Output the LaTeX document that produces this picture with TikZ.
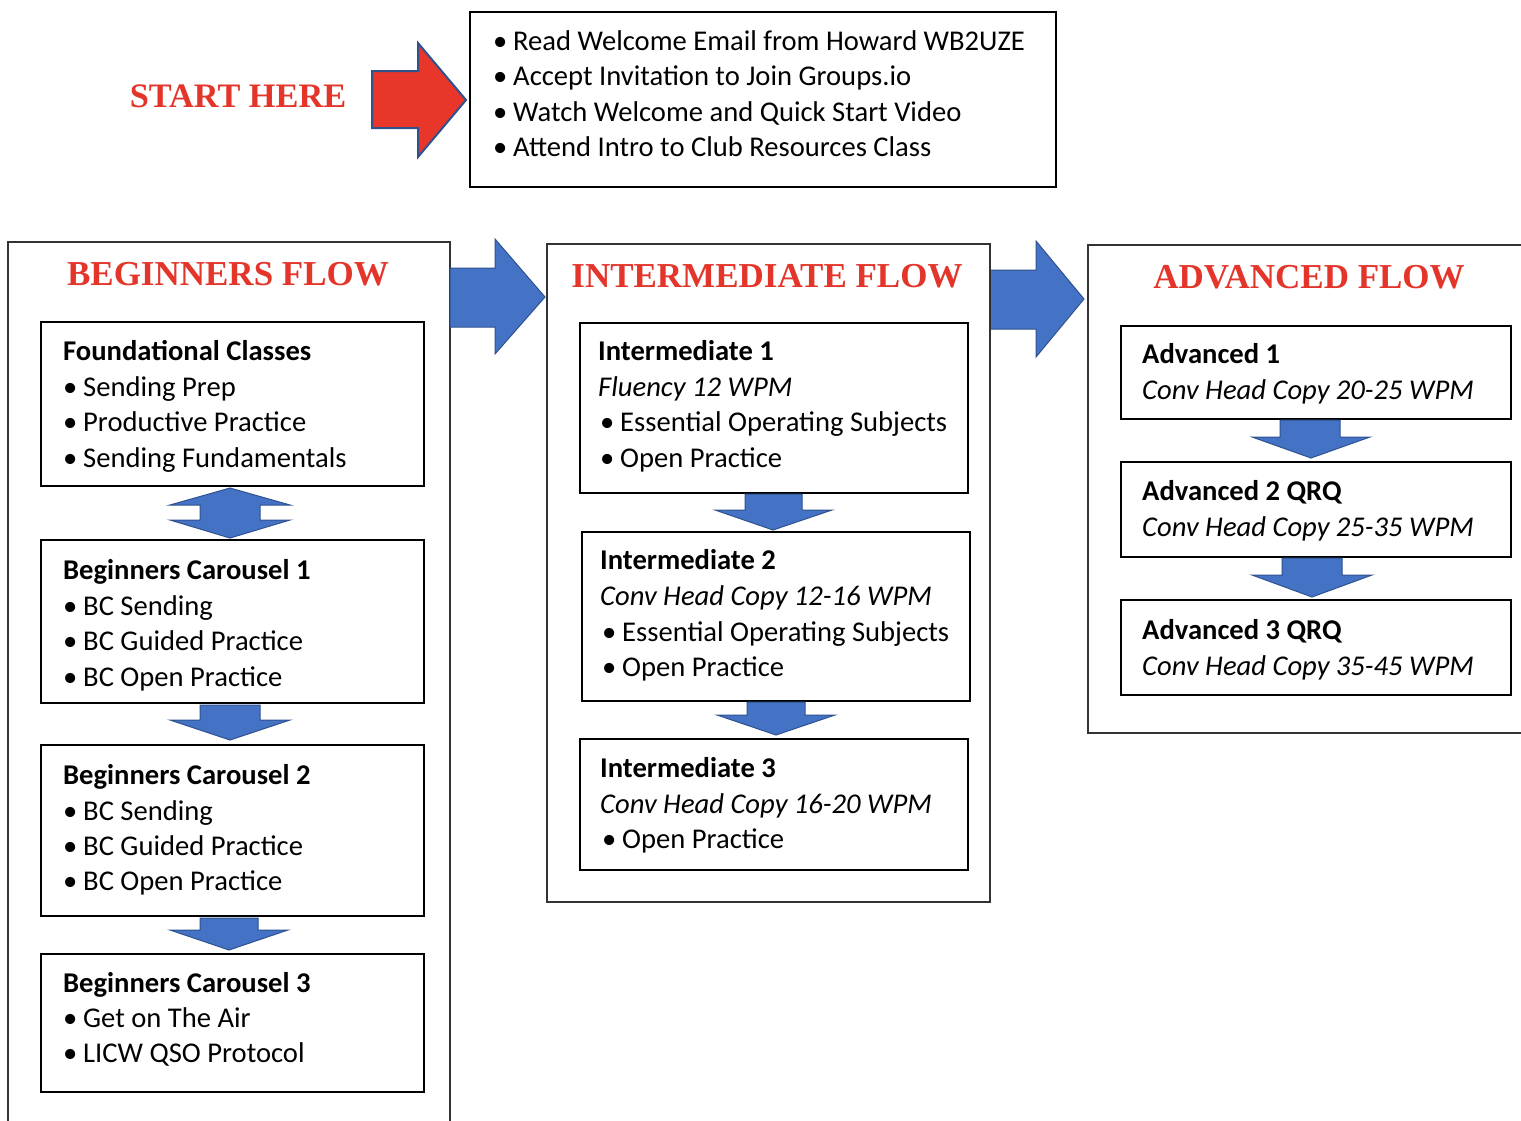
\documentclass[tikz,border=0pt]{standalone}
\usepackage{fontspec}
\setmainfont{Carlito}
\newfontfamily\tnr{Liberation Serif}
\definecolor{titlered}{HTML}{E4352B}
\definecolor{arrblue}{HTML}{4472C4}
\definecolor{arredge}{HTML}{2F528F}
\definecolor{startred}{HTML}{E8372A}
\newcommand\bul{\makebox[20pt][l]{\textbullet}}
\begin{document}
\begin{tikzpicture}[x=1pt,y=-1pt,
  txt/.style={anchor=base west, inner sep=0pt, font=\fontsize{28.6}{34}\selectfont},
  ttl/.style={anchor=base, inner sep=0pt, text=titlered, font=\tnr\bfseries\fontsize{35}{40}\selectfont},
  outer/.style={draw=black!80, line width=1.2pt},
  inner/.style={draw=black, line width=2.4pt},
  barrow/.style={fill=arrblue, draw=arredge, line width=1pt, line join=miter}]
\useasboundingbox (0,0) rectangle (1521,1120);
\fill[white] (0,0) rectangle (1521,1120);

% ---------- start ----------
\node[anchor=base, inner sep=0pt, text=titlered, font=\tnr\bfseries\fontsize{34.3}{40}\selectfont] (start) at (238,107) {START HERE};
\draw[fill=startred, draw=arredge, line width=2pt, line join=miter] (372,71) -- (418,71) -- (418,43) -- (466,100) -- (418,157) -- (418,128) -- (372,128) -- cycle;
\draw[line width=2pt] (470,12) rectangle (1056,187);
\node[txt] (s1) at (493,50) {\bul Read Welcome Email from Howard WB2UZE};
\node[txt] (s2) at (493,85) {\bul Accept Invitation to Join Groups.io};
\node[txt] (s3) at (493,121) {\bul Watch Welcome and Quick Start Video};
\node[txt] (s4) at (493,156) {\bul Attend Intro to Club Resources Class};

% ---------- beginners ----------
\draw[outer] (8,1130) -- (8,242) -- (450,242) -- (450,1130);
\node[ttl] (bt) at (228,285) {BEGINNERS FLOW};
\draw[inner] (41,322) rectangle (424,486);
\node[txt] (b1h) at (63,360) {\bfseries Foundational Classes};
\node[txt] (b1a) at (63,396) {\bul Sending Prep};
\node[txt] (b1b) at (63,431) {\bul Productive Practice};
\node[txt] (b1c) at (63,467) {\bul Sending Fundamentals};

\draw[inner] (41,540) rectangle (424,703);
\node[txt] (b2h) at (63,579) {\bfseries Beginners Carousel 1};
\node[txt] (b2a) at (63,615) {\bul BC Sending};
\node[txt] (b2b) at (63,650) {\bul BC Guided Practice};
\node[txt] (b2c) at (63,686) {\bul BC Open Practice};

\draw[inner] (41,745) rectangle (424,916);
\node[txt] (b3h) at (63,784) {\bfseries Beginners Carousel 2};
\node[txt] (b3a) at (63,820) {\bul BC Sending};
\node[txt] (b3b) at (63,855) {\bul BC Guided Practice};
\node[txt] (b3c) at (63,890) {\bul BC Open Practice};

\draw[inner] (41,954) rectangle (424,1092);
\node[txt] (b4h) at (63,992) {\bfseries Beginners Carousel 3};
\node[txt] (b4a) at (63,1027) {\bul Get on The Air};
\node[txt] (b4b) at (63,1062) {\bul LICW QSO Protocol};

\draw[barrow] (230,488) -- (290,505) -- (260,505) -- (260,520) -- (290,520) -- (230,538) -- (170,520) -- (200,520) -- (200,505) -- (170,505) -- cycle;
\draw[barrow] (200,705) -- (260,705) -- (260,720) -- (290,720) -- (230,740) -- (170,720) -- (200,720) -- cycle;
\draw[barrow] (200,918) -- (258,918) -- (258,930) -- (288,930) -- (229,950) -- (170,930) -- (200,930) -- cycle;

% ---------- arrows between flows ----------
\draw[barrow] (450,268) -- (495,268) -- (495,239) -- (545,297) -- (495,354) -- (495,327) -- (450,327) -- cycle;
\draw[barrow] (990,270) -- (1036,270) -- (1036,241) -- (1084,299) -- (1036,357) -- (1036,329) -- (990,329) -- cycle;

% ---------- intermediate ----------
\draw[outer] (547,244) rectangle (990,902);
\node[ttl] (it) at (767,287) {INTERMEDIATE FLOW};
\draw[inner] (580,323) rectangle (968,493);
\node[txt] (i1h) at (598,360) {\bfseries Intermediate 1};
\node[txt] (i1i) at (598,396) {\itshape Fluency 12 WPM};
\node[txt] (i1a) at (600,431) {\bul Essential Operating Subjects};
\node[txt] (i1b) at (600,467) {\bul Open Practice};

\draw[inner] (582,532) rectangle (970,701);
\node[txt] (i2h) at (600,569) {\bfseries Intermediate 2};
\node[txt] (i2i) at (600,605) {\itshape Conv Head Copy 12-16 WPM};
\node[txt] (i2a) at (602,641) {\bul Essential Operating Subjects};
\node[txt] (i2b) at (602,676) {\bul Open Practice};

\draw[inner] (580,739) rectangle (968,870);
\node[txt] (i3h) at (600,777) {\bfseries Intermediate 3};
\node[txt] (i3i) at (600,813) {\itshape Conv Head Copy 16-20 WPM};
\node[txt] (i3a) at (602,848) {\bul Open Practice};

\draw[barrow] (745,494) -- (802,494) -- (802,510) -- (832,510) -- (773,530) -- (715,510) -- (745,510) -- cycle;
\draw[barrow] (747,702) -- (805,702) -- (805,715) -- (835,715) -- (776,735) -- (717,715) -- (747,715) -- cycle;

% ---------- advanced ----------
\draw[outer] (1530,245) -- (1088,245) -- (1088,733) -- (1530,733);
\node[ttl] (at) at (1309,288) {ADVANCED FLOW};
\draw[inner] (1121,326) rectangle (1511,419);
\node[txt] (a1h) at (1142,363) {\bfseries Advanced 1};
\node[txt] (a1i) at (1142,399) {\itshape Conv Head Copy 20-25 WPM};

\draw[inner] (1121,462) rectangle (1511,557);
\node[txt] (a2h) at (1142,500) {\bfseries Advanced 2 QRQ};
\node[txt] (a2i) at (1142,536) {\itshape Conv Head Copy 25-35 WPM};

\draw[inner] (1121,600) rectangle (1511,695);
\node[txt] (a3h) at (1142,639) {\bfseries Advanced 3 QRQ};
\node[txt] (a3i) at (1142,675) {\itshape Conv Head Copy 35-45 WPM};

\draw[barrow] (1280,420) -- (1340,420) -- (1340,437) -- (1370,437) -- (1311,458) -- (1252,437) -- (1280,437) -- cycle;
\draw[barrow] (1282,558) -- (1342,558) -- (1342,575) -- (1372,575) -- (1312,597) -- (1252,575) -- (1282,575) -- cycle;
\end{tikzpicture}
\end{document}
